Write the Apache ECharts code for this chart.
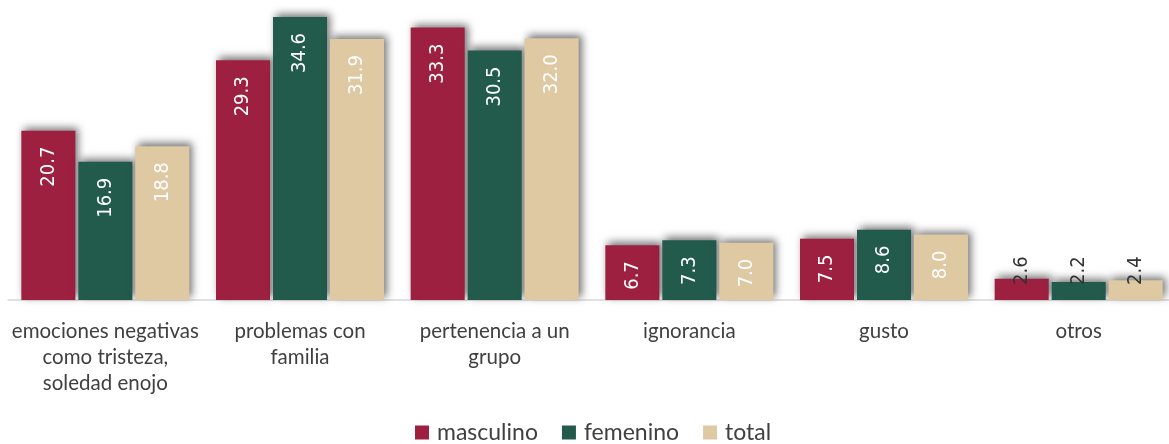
<!DOCTYPE html>
<html><head><meta charset="utf-8">
<script src="https://cdn.jsdelivr.net/npm/echarts@6/dist/echarts.min.js"></script>
<style>html,body{margin:0;padding:0;background:#fff}#c{width:1169px;height:444px}</style>
</head><body><div id="c"></div>
<script>
const categories = ["emociones negativas\ncomo tristeza,\nsoledad enojo", "problemas con\nfamilia", "pertenencia a un\ngrupo", "ignorancia", "gusto", "otros"];
const seriesNames = ["masculino", "femenino", "total"];
const masculino = [20.7, 29.3, 33.3, 6.7, 7.5, 2.6];
const femenino = [16.9, 34.6, 30.5, 7.3, 8.6, 2.2];
const total = [18.8, 31.9, 32.0, 7.0, 8.0, 2.4];
const colors = ["#9D2040", "#225A4C", "#DEC9A2"];

const labelFont = "'Liberation Sans Narrow','DejaVu Sans Condensed',sans-serif";
function makeData(arr) {
  return arr.map(v => {
    if (v < 5) {
      return {
        value: v,
        label: {position: 'insideBottom', distance: 15, align: 'left', color: '#333333'}
      };
    }
    return v;
  });
}
const dataSets = [masculino, femenino, total];
const chart = echarts.init(document.getElementById('c'), null, {renderer: 'canvas'});
chart.setOption({
  animation: false,
  color: colors,
  grid: {left: 8, width: 1168, top: 5.5, bottom: 144, containLabel: false, outerBoundsMode: 'none'},
  legend: {
    bottom: -5, left: 410, itemWidth: 14, itemHeight: 14, itemGap: 24,
    icon: 'rect',
    textStyle: {fontFamily: 'Lato', fontSize: 23, color: '#404040', padding: [0, 0, 0, 3]},
    data: seriesNames
  },
  xAxis: {
    type: 'category', data: categories,
    axisLine: {lineStyle: {color: '#d9d9d9', width: 1.5}},
    axisTick: {show: false},
    axisLabel: {fontFamily: 'Lato', fontSize: 20.5, color: '#404040', lineHeight: 26, margin: 18, interval: 0}
  },
  yAxis: {type: 'value', min: 0, max: 36, show: false, splitLine: {show: false}},
  series: dataSets.map((arr, i) => ({
    name: seriesNames[i], type: 'bar', data: makeData(arr),
    barGap: '5.5%', barCategoryGap: '13.7%',
    itemStyle: {
      color: colors[i], shadowColor: 'rgba(0,0,0,0.55)', shadowBlur: 8,
      shadowOffsetX: 3, shadowOffsetY: -3
    },
    label: {
      show: true, position: 'insideTop', distance: 16, rotate: 90,
      align: 'right', verticalAlign: 'middle',
      fontFamily: labelFont, fontSize: 20, color: '#ffffff',
      formatter: p => p.value.toFixed(1)
    }
  }))
});
</script></body></html>
